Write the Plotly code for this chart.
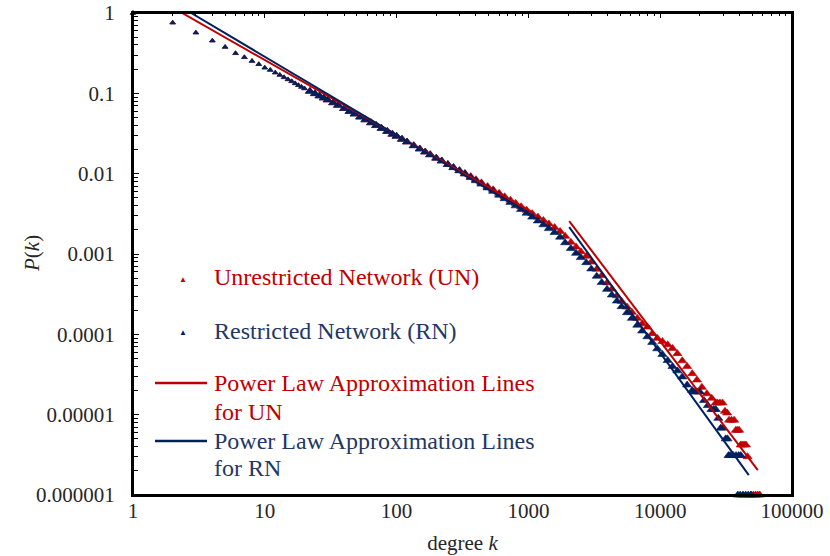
import plotly.graph_objects as go

# ---------------- data ----------------
# shared low-degree part (both networks overlap here)
shared_k = [1, 2, 3, 4, 5, 6, 7, 8, 9, 10, 11, 12, 13, 14, 15, 16, 17, 18, 19, 20,
            22, 24, 26, 28, 30, 33, 36, 40, 44, 48, 53, 58, 64, 70, 77, 85, 93, 100,
            110, 120, 135, 150, 165, 180, 200, 220, 245, 270, 300]
shared_p = [1.0, 0.757, 0.569, 0.452, 0.377, 0.315, 0.281, 0.252, 0.230, 0.208,
            0.195, 0.181, 0.169, 0.158, 0.149, 0.141, 0.133, 0.126, 0.120, 0.115,
            0.106, 0.0991, 0.0929, 0.0875, 0.0828, 0.0764, 0.0710, 0.0647, 0.0596,
            0.0552, 0.0506, 0.0468, 0.0430, 0.0397, 0.0366, 0.0336, 0.0310, 0.0292,
            0.0268, 0.0248, 0.0223, 0.0203, 0.0186, 0.0172, 0.0156, 0.0144, 0.0130,
            0.0119, 0.0109]

mid_k = [330, 365, 400, 440, 490, 540, 600, 660, 730, 800, 880, 970, 1070, 1180,
         1300, 1430, 1580, 1740, 1900, 2100, 2300, 2500, 2750, 3000, 3300, 3600,
         3950, 4300, 4700, 5100, 5600, 6100, 6700, 7300, 8000, 8700, 9500, 10400,
         11400, 12400, 13500, 14700, 16000, 17500]
un_mid_p = [0.0101, 0.00920, 0.00843, 0.00769, 0.00692, 0.00631, 0.00569, 0.00516,
            0.00468, 0.00427, 0.00387, 0.00350, 0.00318, 0.00288, 0.00261, 0.00237,
            0.00214, 0.00191, 0.00166, 0.00140, 0.00122, 0.00107, 0.000938, 0.000794,
            0.000646, 0.000541, 0.000437, 0.000367, 0.000302, 0.000257, 0.000219,
            0.000188, 0.000158, 0.000135, 0.000123, 0.000102, 8.91e-5, 8.13e-5,
            7.41e-5, 6.68e-5, 5.75e-5, 4.68e-5, 3.98e-5, 3.24e-5]
rn_mid_p = [0.00989, 0.00895, 0.00817, 0.00741, 0.00665, 0.00603, 0.00540, 0.00488,
            0.00439, 0.00398, 0.00359, 0.00322, 0.00288, 0.00258, 0.00231, 0.00207,
            0.00185, 0.00162, 0.00138, 0.00117, 0.00102, 0.000902, 0.000780, 0.000652,
            0.000528, 0.000442, 0.000363, 0.000309, 0.000260, 0.000221, 0.000186,
            0.000158, 0.000130, 0.000110, 9.33e-5, 7.94e-5, 6.61e-5, 5.62e-5,
            4.73e-5, 3.98e-5, 3.51e-5, 2.95e-5, 2.34e-5, 2.0e-5]

un_tail_k = [19000, 20700, 22600, 24600, 26400, 27200, 28400, 29700, 31000, 32200,
             33300, 34800, 36400, 37500, 38600, 39700, 40800, 42000, 43300, 44700,
             46000, 49000, 51000, 53000, 55000, 57000]
un_tail_p = [2.7e-5, 2.19e-5, 1.82e-5, 1.6e-5, 1.4e-5, 1.4e-5, 1.4e-5, 1.4e-5,
             1.1e-5, 1.05e-5, 8.55e-6, 8.55e-6, 8.55e-6, 6.4e-6, 6.4e-6, 6.4e-6,
             4.2e-6, 4.2e-6, 4.2e-6, 4.2e-6, 3.0e-6, 1e-6, 1e-6, 1e-6, 1e-6, 1e-6]

rn_tail_k = [18000, 19000, 20000, 21500, 23000, 24500, 25500, 26400, 27600, 28800,
             30000, 31400, 32400, 33000, 34000, 35800, 37600, 39400, 40900,
             38800, 40500, 42500, 44500, 46600, 48800]
rn_tail_p = [1.92e-5, 1.92e-5, 1.92e-5, 1.5e-5, 1.3e-5, 1.16e-5, 1.16e-5, 1.16e-5,
             9.0e-6, 6.8e-6, 6.8e-6, 5.0e-6, 5.0e-6, 3.1e-6, 3.1e-6, 3.1e-6, 3.1e-6,
             3.1e-6, 3.1e-6, 1e-6, 1e-6, 1e-6, 1e-6, 1e-6, 1e-6]

# power-law approximation lines (two segments each: low-degree and high-degree fits)
un_fit_k = [2.36, 1100, None, 2040, 55000]
un_fit_p = [1.0, 0.00322, None, 0.00257, 2.04e-6]
rn_fit_k = [2.76, 1100, None, 2040, 47000]
rn_fit_p = [1.0, 0.00293, None, 0.00216, 1.77e-6]

x_tick_vals = [1, 10, 100, 1000, 10000, 100000]
x_tick_text = ["1", "10", "100", "1000", "10000", "100000"]
y_tick_vals = [1, 0.1, 0.01, 0.001, 0.0001, 0.00001, 0.000001]
y_tick_text = ["1", "0.1", "0.01", "0.001", "0.0001", "0.00001", "0.000001"]

x_title = "degree <i>k</i>"
y_title = "<i>P</i>(<i>k</i>)"
legend_un = "Unrestricted Network (UN)"
legend_rn = "Restricted Network (RN)"
legend_fit_line1 = "Power Law Approximation Lines"
legend_fit_un = "for UN"
legend_fit_rn = "for RN"

# ---------------- styling ----------------
RED = "#C00000"
BLUE = "#002060"
RED_TXT = "#C00000"
BLUE_TXT = "#1F3864"
FONT = "Liberation Serif, Times New Roman, serif"
TXT = "#262626"

un_k = shared_k + mid_k + un_tail_k
un_p = shared_p + un_mid_p + un_tail_p
rn_k = shared_k + mid_k + rn_tail_k
rn_p = shared_p + rn_mid_p + rn_tail_p


def marker_sizes(ks):
    # isolated low-degree points are drawn small; the dense band is drawn thicker
    return [5 if k < 22 else 8 for k in ks]


fig = go.Figure()
fig.add_trace(go.Scatter(x=un_k, y=un_p, mode="markers", name=legend_un,
                         marker=dict(symbol="triangle-up", size=marker_sizes(un_k),
                                     color=RED, opacity=1,
                                     line=dict(width=0.6, color=RED)),
                         cliponaxis=False, showlegend=False))
fig.add_trace(go.Scatter(x=rn_k, y=rn_p, mode="markers", name=legend_rn,
                         marker=dict(symbol="triangle-up", size=marker_sizes(rn_k),
                                     color=BLUE, opacity=1,
                                     line=dict(width=0.6, color=BLUE)),
                         cliponaxis=False, showlegend=False))
fig.add_trace(go.Scatter(x=un_fit_k, y=un_fit_p, mode="lines", xaxis="x2",
                         name="Power Law Approximation Lines for UN",
                         line=dict(color=RED, width=2), showlegend=False))
fig.add_trace(go.Scatter(x=rn_fit_k, y=rn_fit_p, mode="lines", xaxis="x2",
                         name="Power Law Approximation Lines for RN",
                         line=dict(color=BLUE, width=2), showlegend=False))


def minor_vals(e0, e1):
    return [m * 10 ** e for e in range(e0, e1) for m in range(2, 10)]


fig.update_layout(
    template="none",
    width=830, height=556,
    margin=dict(l=133, r=38, t=13, b=61, autoexpand=False),
    paper_bgcolor="white", plot_bgcolor="white",
    font=dict(family=FONT, size=21, color=TXT),
    showlegend=False,
    xaxis=dict(type="log", range=[0, 5], tickmode="array", tickvals=x_tick_vals,
               ticktext=x_tick_text, ticks="", showgrid=False, zeroline=False,
               showline=True, linecolor="black", linewidth=2, mirror=True,
               ticklabelstandoff=-4, automargin=False, ticklabeloverflow="allow",
               tickfont=dict(family=FONT, size=21, color=TXT),
               title=dict(text=x_title, standoff=13,
                          font=dict(family=FONT, size=21, color=TXT))),
    xaxis2=dict(type="log", range=[0, 5], overlaying="x", side="top", matches="x",
                tickmode="array", tickvals=x_tick_vals, showticklabels=False,
                ticks="inside", ticklen=5, tickwidth=1, tickcolor="black",
                showgrid=False, zeroline=False, showline=True, linecolor="black",
                linewidth=2, automargin=False,
                minor=dict(tickmode="array", tickvals=minor_vals(0, 5),
                           ticks="inside", ticklen=3, tickwidth=1,
                           tickcolor="black", showgrid=False)),
    yaxis=dict(type="log", range=[-6, 0], tickmode="array", tickvals=y_tick_vals,
               ticktext=y_tick_text, ticks="inside", ticklen=6, tickwidth=1,
               tickcolor="black", showgrid=False, zeroline=False,
               showline=True, linecolor="black", linewidth=2, mirror=True,
               ticklabelstandoff=12, automargin=False, ticklabeloverflow="allow",
               tickfont=dict(family=FONT, size=21, color=TXT),
               minor=dict(tickmode="array", tickvals=minor_vals(-6, 0),
                          ticks="inside", ticklen=5, tickwidth=1,
                          tickcolor="black", showgrid=False)),
)


# ---------------- manual legend & y title ----------------
def px_x(px):
    return (px - 133) / 659.0


def px_y(py):
    return (495 - py) / 482.0


ann = []
ann.append(dict(x=px_x(32), y=px_y(254), text=y_title, textangle=-90,
                font=dict(family=FONT, size=21, color=TXT)))
ann.append(dict(x=px_x(183), y=px_y(279), text="▲", font=dict(size=8, color=RED)))
ann.append(dict(x=px_x(183), y=px_y(332), text="▲", font=dict(size=8, color=BLUE)))
for txt, py, col in [(legend_un, 277, RED_TXT), (legend_rn, 331, BLUE_TXT),
                     (legend_fit_line1, 383, RED_TXT), (legend_fit_un, 412, RED_TXT),
                     (legend_fit_line1, 441, BLUE_TXT), (legend_fit_rn, 468, BLUE_TXT)]:
    ann.append(dict(x=px_x(212), y=px_y(py), text=txt, xanchor="left",
                    font=dict(family=FONT, size=24, color=col)))
for a in ann:
    a.update(xref="paper", yref="paper", showarrow=False,
             yanchor="middle", xanchor=a.get("xanchor", "center"))
fig.update_layout(annotations=ann)

# plot frame
fig.add_shape(type="rect", xref="paper", yref="paper", x0=0, x1=1, y0=0, y1=1,
              line=dict(color="black", width=2), layer="above")
fig.add_shape(type="line", xref="paper", yref="paper", x0=px_x(155), x1=px_x(207),
              y0=px_y(383), y1=px_y(383), line=dict(color=RED, width=2.5))
fig.add_shape(type="line", xref="paper", yref="paper", x0=px_x(155), x1=px_x(207),
              y0=px_y(441), y1=px_y(441), line=dict(color=BLUE, width=2.5))

# remove the default page margin so the 830x556 figure fills the window exactly
fig.write_html("out.html", config={"displayModeBar": False},
               post_script="document.body.style.margin='0px';")
